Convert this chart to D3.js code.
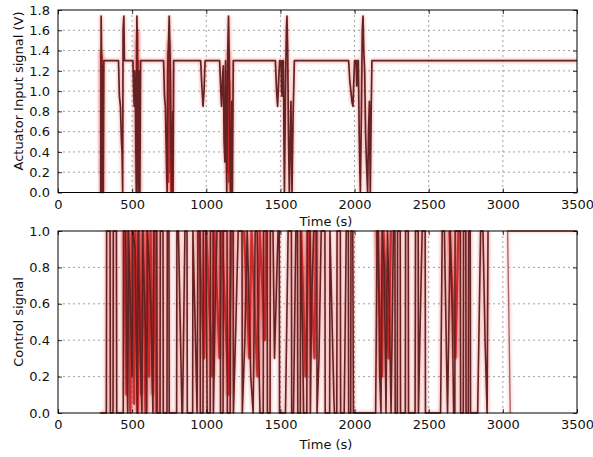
<!DOCTYPE html>
<html>
<head>
<meta charset="utf-8">
<script src="https://cdn.jsdelivr.net/npm/d3@7"></script>
<style>
  html, body { margin: 0; padding: 0; background: #fff; }
  svg { display: block; font-family: "DejaVu Sans", sans-serif; }
</style>
</head>
<body>
<svg id="chart" width="593" height="457"></svg>
<script>
// Time axis ticks (s)
const timeTicks = [0, 500, 1000, 1500, 2000, 2500, 3000, 3500];
const actuatorTicks = [0.0, 0.2, 0.4, 0.6, 0.8, 1.0, 1.2, 1.4, 1.6, 1.8];
const controlTicks = [0.0, 0.2, 0.4, 0.6, 0.8, 1.0];

// Actuator input signal (V): [time s, value]
const actuatorSignal = [
  [280,0],[288,0],[291,1.74],[294,1.4],[297,0],[300,1.25],[302,0.2],[305,0],[309,1.3],
  [408,1.3],[414,0.95],[421,0.85],[428,0.5],[432,0.4],[436,0],[439,1.6],[444,1.74],[448,1.3],
  [505,1.3],[510,1.0],[514,0.85],[518,1.2],[522,0.9],[526,0.3],[528,0],[532,1.74],[535,1.5],[538,0.3],[541,0],[545,1.2],[548,0.4],[552,0],[557,1.3],
  [712,1.3],[718,0.95],[724,0.85],[730,0.4],[736,0],[740,1.2],[750,1.74],[756,1.35],[762,0.4],[768,0],[773,0.8],[776,0],[780,1.3],
  [962,1.3],[970,1.05],[978,0.85],[985,1.0],[992,1.3],
  [1090,1.3],[1098,1.0],[1103,0.85],[1110,1.15],[1115,1.25],[1120,0.5],[1126,0.3],[1130,1.3],[1134,0.6],[1138,0],[1145,1.4],[1150,1.74],[1155,1.3],[1160,0.3],[1166,0],[1172,0.9],[1176,0],[1182,1.3],
  [1466,1.3],[1474,1.0],[1481,0.85],[1488,1.1],[1495,1.3],[1504,1.3],[1508,1.0],[1511,0.95],[1516,1.3],[1520,1.3],[1524,0.5],[1527,0],[1534,1.0],[1540,1.6],[1544,1.74],[1549,1.4],[1554,0.6],[1560,0],[1566,0.5],[1571,0.9],[1578,0],[1586,0.8],[1594,1.3],
  [1960,1.3],[1968,1.1],[1975,1.0],[1982,0.9],[1989,0.85],[1995,1.1],[2000,1.3],[2010,1.3],[2015,1.05],[2020,1.3],[2025,1.3],[2032,0.5],[2039,0],[2046,0.8],[2052,1.6],[2057,1.74],[2062,1.4],[2068,1.2],[2074,0.6],[2080,0.3],[2088,0],[2094,0.6],[2100,0.9],[2106,0],[2112,0.8],[2117,1.3],
  [3500,1.3]
];

// Inner swings of the actuator bursts (null splits segments)
const actuatorSwing = [
  [290,1.4],[293,0.2],[296,1.35],[299,0],[null,null],
  [530,1.5],[533,0.2],[536,1.6],[539,0.1],[542,1.3],[545,0],[null,null],
  [742,1.4],[746,0.1],[749,1.5],[753,0.2],[757,1.2],[761,0],[null,null],
  [1140,1.2],[1144,0.2],[1148,1.4],[1152,0.1],[1157,1.1],[1161,0]
];

// Control signal: [time s, value]
const controlSignal = [
  [285,0],[326,0],[328,1],[351,1],[353,0],[371,0],[373,1],[394,1],[396,0],[440,0],[442,1],[456,1],[470,0],[476,1],[500,0.2],[506,1],[520,0.9],[534,0],[540,1],[556,0.3],[566,0],[570,1],[592,0.4],[598,0],[604,1],[626,0.6],[640,0],[646,1],[666,1],[668,0],[688,0],[690,1],[708,1],[710,0],[735,0],[737,1],[748,1],[750,0],
  [800,0],[802,1],[812,1],[836,0],[840,0],[856,1],[870,1],[872,0],[908,0],[910,1],[930,0.3],[938,0],[944,1],[958,1],[960,0],[978,0],[980,1],[998,1],[1006,0],
  [1026,0],[1028,1],[1046,1],[1048,0],[1060,0.6],[1072,1],[1094,1],[1096,0],[1113,0],[1115,1],[1140,1],[1142,0],[1161,0],[1163,1],[1181,1],[1183,0],[1200,0.5],[1215,1],[1241,1],[1243,0],[1260,0.4],[1276,1],[1300,0.2],[1316,0],[1330,1],[1343,1],[1350,0.5],[1362,0],[1384,0],[1386,1],[1410,1],[1412,0],[1430,0],[1432,1],[1450,1],[1460,0.3],[1484,1],[1492,1],[1494,0],[1534,0],
  [1552,1],[1574,1],[1576,0],[1588,0],[1604,1],[1615,1],[1617,0],[1634,0],[1636,1],[1650,0.4],[1656,0],[1678,0],[1680,1],[1700,1],[1702,0],[1710,0.6],[1725,1],[1745,1],[1747,0],[1760,0.3],[1775,1],[1800,1],[1802,0],[1832,0],[1834,1],[1860,0.1],[1864,0],[1880,0],[1882,1],[1904,1],[1906,0],[1930,0],[1944,1],[1958,1],[1960,0],[1974,0],[1976,1],[1988,1],[1992,0],[2142,0],
  [2152,1],[2160,1],[2170,0.2],[2178,0],[2186,1],[2200,0.8],[2212,0],[2222,1],[2236,0.5],[2246,0],[2262,1],[2272,1],[2274,0],[2288,0],[2290,1],[2308,1],[2310,0],[2342,0],[2344,1],[2362,1],[2364,0],[2408,0],[2411,1],[2429,1],[2431,0],[2440,0.4],[2456,1],[2476,1],[2478,0],[2580,0],
  [2591,1],[2606,1],[2620,0.3],[2627,0],[2645,1],[2660,0.5],[2668,0],[2676,0],[2678,1],[2713,1],[2715,0],[2733,0],[2735,1],[2750,1],[2752,0],[2767,0],[2769,1],[2780,1],[2782,0],[2830,0],[2850,1],[2866,1],[2880,0.4],[2894,0],[2900,1]
];

// Faster red swings inside the busy control stretches (null splits segments)
const controlSwing = [
  [446,1],[462,0.1],[472,1],[488,0],[498,1],[512,0.05],[522,1],[538,0],[546,1],[562,0.1],[574,1],[590,0],[600,1],[614,0.2],[624,1],[640,0.1],[652,1],[664,0],[null,null],
  [950,1],[985,0.3],[1000,1],[1040,0.2],[1055,1],[1090,0.3],[1105,1],[1150,0.1],[1170,1],[null,null],
  [1255,1],[1290,0.3],[1305,1],[1345,0.2],[1360,1],[1395,0.4],[1405,1],[null,null],
  [1640,1],[1670,0.2],[1690,1],[1730,0.3],[1740,1],[null,null],
  [2150,1],[2185,0.2],[2195,1],[2230,0.3],[2245,1],[null,null],
  [2640,1],[2680,0.3],[2700,1]
];

// Final settled control segment
const controlTail = [[3050,0],[3032,1],[3500,1]];

const svg = d3.select("#chart");
const plotLeft = 58, plotRight = 577;

const defs = svg.append("defs");
defs.append("filter").attr("id", "glow")
  .attr("x", "-5%").attr("y", "-5%").attr("width", "110%").attr("height", "110%")
  .append("feGaussianBlur").attr("stdDeviation", 1.8);

function panel(cfg) {
  const x = d3.scaleLinear().domain([0, 3500]).range([plotLeft, plotRight]);
  const y = d3.scaleLinear().domain(cfg.domain).range([cfg.bottom, cfg.top]);
  const g = svg.append("g");
  const clipId = "clip-" + cfg.id;
  defs.append("clipPath").attr("id", clipId)
    .append("rect").attr("x", plotLeft).attr("y", cfg.top - 1)
    .attr("width", plotRight - plotLeft).attr("height", cfg.bottom - cfg.top + 2);

  // grid
  const grid = g.append("g").attr("stroke", "#8a8a8a").attr("stroke-width", 0.8)
    .attr("stroke-dasharray", "2,3").attr("fill", "none");
  timeTicks.slice(1, -1).forEach(t => grid.append("line")
    .attr("x1", x(t)).attr("x2", x(t)).attr("y1", cfg.top).attr("y2", cfg.bottom));
  cfg.ticks.slice(1, -1).forEach(v => grid.append("line")
    .attr("x1", plotLeft).attr("x2", plotRight).attr("y1", y(v)).attr("y2", y(v)));

  const line = d3.line().defined(d => d[0] != null).x(d => x(d[0])).y(d => y(d[1]));
  const lines = g.append("g").attr("clip-path", `url(#${clipId})`);
  cfg.series.forEach(s => {
    lines.append("path").datum(s.data).attr("d", line)
      .attr("fill", "none").attr("stroke", s.glow).attr("stroke-width", s.glowWidth || 3.2)
      .attr("stroke-opacity", s.glowOpacity).attr("filter", "url(#glow)");
  });
  cfg.series.forEach(s => {
    lines.append("path").datum(s.data).attr("d", line)
      .attr("fill", "none").attr("stroke", s.color).attr("stroke-width", s.width)
      .attr("stroke-opacity", s.opacity || 1)
      .attr("stroke-linejoin", "round");
  });

  // axes: ticks inside on all four sides
  const tickLen = 4;
  const axisBottom = d3.axisBottom(x).tickValues(timeTicks).tickSize(-tickLen).tickPadding(7).tickFormat(d3.format("d"));
  const axisTop = d3.axisTop(x).tickValues(timeTicks).tickSize(-tickLen).tickFormat("");
  const axisLeft = d3.axisLeft(y).tickValues(cfg.ticks).tickSize(-tickLen).tickPadding(8).tickFormat(d3.format(".1f"));
  const axisRight = d3.axisRight(y).tickValues(cfg.ticks).tickSize(-tickLen).tickFormat("");

  const styleAxis = a => {
    a.select(".domain").remove();
    a.selectAll("line").attr("stroke", "#000").attr("stroke-width", 0.8);
    a.selectAll("text").attr("fill", "#111").style("font-size", "13px")
      .style("font-family", "DejaVu Sans, sans-serif");
  };
  g.append("g").attr("transform", `translate(0,${cfg.bottom})`).call(axisBottom).call(styleAxis);
  g.append("g").attr("transform", `translate(0,${cfg.top})`).call(axisTop).call(styleAxis);
  g.append("g").attr("transform", `translate(${plotLeft},0)`).call(axisLeft).call(styleAxis);
  g.append("g").attr("transform", `translate(${plotRight},0)`).call(axisRight).call(styleAxis);

  g.append("rect").attr("x", plotLeft).attr("y", cfg.top)
    .attr("width", plotRight - plotLeft).attr("height", cfg.bottom - cfg.top)
    .attr("fill", "none").attr("stroke", "#000").attr("stroke-width", 1);

  g.append("text").attr("x", 326).attr("y", cfg.xLabelY).attr("text-anchor", "middle")
    .style("font-size", "13px").attr("fill", "#111").text("Time (s)");
  g.append("text").attr("transform", `translate(${cfg.yLabelX},${cfg.yLabelCenter}) rotate(-90)`)
    .attr("text-anchor", "middle").style("font-size", "13px").attr("fill", "#111").text(cfg.yLabel);
}

panel({
  id: "act", domain: [0, 1.8], ticks: actuatorTicks, top: 10, bottom: 192.5,
  series: [
    { data: actuatorSwing, color: "#c41a1a", width: 1.6, opacity: 0.85, glow: "#e01818", glowOpacity: 0.4, glowWidth: 4 },
    { data: actuatorSignal, color: "#652222", width: 1.7, glow: "#e01818", glowOpacity: 0.3 }
  ],
  xLabelY: 226, yLabel: "Actuator Input signal (V)", yLabelX: 23, yLabelCenter: 91
});

panel({
  id: "ctrl", domain: [0, 1.0], ticks: controlTicks, top: 231, bottom: 413,
  series: [
    { data: controlSwing, color: "#c01818", width: 2.2, opacity: 0.8, glow: "#e01818", glowOpacity: 0.5, glowWidth: 5 },
    { data: controlSignal, color: "#652222", width: 1.6, glow: "#e01818", glowOpacity: 0.35 },
    { data: controlTail, color: "#a86060", width: 1.3, glow: "#f08080", glowOpacity: 0.4 }
  ],
  xLabelY: 449, yLabel: "Control signal", yLabelX: 23, yLabelCenter: 322
});
</script>
</body>
</html>
